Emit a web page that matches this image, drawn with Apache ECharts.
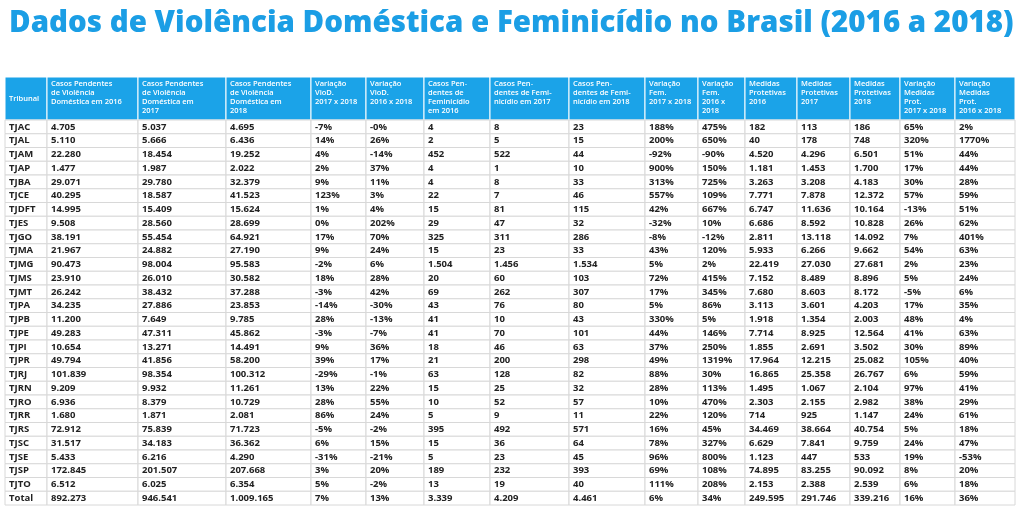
<!DOCTYPE html>
<html lang="pt">
<head>
    <meta charset="UTF-8">
    <title>Dados de Violência Doméstica e Feminicídio no Brasil</title>
    <style>
        body { margin: 0; padding: 0; background: #fff; }
        #tabela { width: 1024px; height: 511px; }
    </style>
</head>
<body>
    <div id="tabela"></div>
    <script src="https://cdn.jsdelivr.net/npm/echarts@6/dist/echarts.min.js"></script>
    <script>
        var headers = ['Tribunal', 'Casos Pendentes\nde Violência\nDoméstica em 2016', 'Casos Pendentes\nde Violência\nDoméstica em\n2017',
            'Casos Pendentes\nde Violência\nDoméstica em\n2018', 'Variação\nVioD.\n2017 x 2018', 'Variação\nVioD.\n2016 x 2018',
            'Casos Pen-\ndentes de\nFeminicídio\nem 2016', 'Casos Pen-\ndentes de Femi-\nnicídio em 2017', 'Casos Pen-\ndentes de Femi-\nnicídio em 2018',
            'Variação\nFem.\n2017 x 2018', 'Variação\nFem.\n2016 x\n2018', 'Medidas\nProtetivas\n2016', 'Medidas\nProtetivas\n2017',
            'Medidas\nProtetivas\n2018', 'Variação\nMedidas\nProt.\n2017 x 2018', 'Variação\nMedidas\nProt.\n2016 x 2018'];

        var tribunais = ['TJAC','TJAL','TJAM','TJAP','TJBA','TJCE','TJDFT','TJES','TJGO','TJMA','TJMG','TJMS','TJMT','TJPA','TJPB','TJPE','TJPI','TJPR','TJRJ','TJRN','TJRO','TJRR','TJRS','TJSC','TJSE','TJSP','TJTO','Total'];
        var vd2016 = ['4.705','5.110','22.280','1.477','29.071','40.295','14.995','9.508','38.191','21.967','90.473','23.910','26.242','34.235','11.200','49.283','10.654','49.794','101.839','9.209','6.936','1.680','72.912','31.517','5.433','172.845','6.512','892.273'];
        var vd2017 = ['5.037','5.666','18.454','1.987','29.780','18.587','15.409','28.560','55.454','24.882','98.004','26.010','38.432','27.886','7.649','47.311','13.271','41.856','98.354','9.932','8.379','1.871','75.839','34.183','6.216','201.507','6.025','946.541'];
        var vd2018 = ['4.695','6.436','19.252','2.022','32.379','41.523','15.624','28.699','64.921','27.190','95.583','30.582','37.288','23.853','9.785','45.862','14.491','58.200','100.312','11.261','10.729','2.081','71.723','36.362','4.290','207.668','6.354','1.009.165'];
        var varVd1718 = ['-7%','14%','4%','2%','9%','123%','1%','0%','17%','9%','-2%','18%','-3%','-14%','28%','-3%','9%','39%','-29%','13%','28%','86%','-5%','6%','-31%','3%','5%','7%'];
        var varVd1618 = ['-0%','26%','-14%','37%','11%','3%','4%','202%','70%','24%','6%','28%','42%','-30%','-13%','-7%','36%','17%','-1%','22%','55%','24%','-2%','15%','-21%','20%','-2%','13%'];
        var fem2016 = ['4','2','452','4','4','22','15','29','325','15','1.504','20','69','43','41','41','18','21','63','15','10','5','395','15','5','189','13','3.339'];
        var fem2017 = ['8','5','522','1','8','7','81','47','311','23','1.456','60','262','76','10','70','46','200','128','25','52','9','492','36','23','232','19','4.209'];
        var fem2018 = ['23','15','44','10','33','46','115','32','286','33','1.534','103','307','80','43','101','63','298','82','32','57','11','571','64','45','393','40','4.461'];
        var varFem1718 = ['188%','200%','-92%','900%','313%','557%','42%','-32%','-8%','43%','5%','72%','17%','5%','330%','44%','37%','49%','88%','28%','10%','22%','16%','78%','96%','69%','111%','6%'];
        var varFem1618 = ['475%','650%','-90%','150%','725%','109%','667%','10%','-12%','120%','2%','415%','345%','86%','5%','146%','250%','1319%','30%','113%','470%','120%','45%','327%','800%','108%','208%','34%'];
        var mp2016 = ['182','40','4.520','1.181','3.263','7.771','6.747','6.686','2.811','5.933','22.419','7.152','7.680','3.113','1.918','7.714','1.855','17.964','16.865','1.495','2.303','714','34.469','6.629','1.123','74.895','2.153','249.595'];
        var mp2017 = ['113','178','4.296','1.453','3.208','7.878','11.636','8.592','13.118','6.266','27.030','8.489','8.603','3.601','1.354','8.925','2.691','12.215','25.358','1.067','2.155','925','38.664','7.841','447','83.255','2.388','291.746'];
        var mp2018 = ['186','748','6.501','1.700','4.183','12.372','10.164','10.828','14.092','9.662','27.681','8.896','8.172','4.203','2.003','12.564','3.502','25.082','26.767','2.104','2.982','1.147','40.754','9.759','533','90.092','2.539','339.216'];
        var varMp1718 = ['65%','320%','51%','17%','30%','57%','-13%','26%','7%','54%','2%','5%','-5%','17%','48%','41%','30%','105%','6%','97%','38%','24%','5%','24%','19%','8%','6%','16%'];
        var varMp1618 = ['2%','1770%','44%','44%','28%','59%','51%','62%','401%','63%','23%','24%','6%','35%','4%','63%','89%','40%','59%','41%','29%','61%','18%','47%','-53%','20%','18%','36%'];

        var colunas = [tribunais, vd2016, vd2017, vd2018, varVd1718, varVd1618, fem2016, fem2017, fem2018,
            varFem1718, varFem1618, mp2016, mp2017, mp2018, varMp1718, varMp1618];

        // bordas das colunas (px dentro da tabela)
        var bordas = [0, 42, 133, 221, 306, 361, 419, 485, 564, 640, 693, 740, 792, 845, 895, 950, 1010];
        var fonte = '"Open Sans", "DejaVu Sans", sans-serif';

        var dadosCab = [], dadosCorpo = [];
        for (var c = 0; c < colunas.length; c++) {
            dadosCab.push([c, 0]);
            for (var r = 0; r < tribunais.length; r++) {
                dadosCorpo.push([c, r]);
            }
        }

        function celula(cabecalho) {
            return function (params, api) {
                var c = api.value(0), r = api.value(1);
                var p0 = api.coord([bordas[c], r]);
                var p1 = api.coord([bordas[c + 1], r]);
                var h = api.size([0, 1])[1];
                var y = p0[1] - h / 2;
                var topo = cabecalho && c !== 0;
                return {
                    type: 'group',
                    children: [{
                        type: 'rect',
                        shape: { x: p0[0], y: y, width: p1[0] - p0[0], height: h },
                        style: cabecalho ? { fill: '#1ba3e8', stroke: '#ffffff', lineWidth: 1 }
                            : { fill: '#ffffff', stroke: '#d8d8d8', lineWidth: 1 }
                    }, {
                        type: 'text',
                        x: p0[0] + 4,
                        y: topo ? y + 2 : p0[1],
                        style: {
                            text: cabecalho ? headers[c] : colunas[c][r],
                            fill: cabecalho ? '#ffffff' : '#222222',
                            font: (cabecalho ? '600 7.5px ' : 'bold 9.5px ') + fonte,
                            lineHeight: 9,
                            verticalAlign: topo ? 'top' : 'middle',
                            align: 'left'
                        }
                    }]
                };
            };
        }

        var chart = echarts.init(document.getElementById('tabela'));
        chart.setOption({
            animation: false,
            title: {
                text: 'Dados de Violência Doméstica e Feminicídio no Brasil (2016 a 2018)',
                left: 4, top: 4,
                textStyle: { color: '#1b9ee5', fontSize: 29.5, fontWeight: 800, fontFamily: fonte }
            },
            grid: [
                { left: 5, width: 1010, top: 77, height: 43 },
                { left: 5, width: 1010, top: 120, height: 385 }
            ],
            xAxis: [
                { type: 'value', gridIndex: 0, min: 0, max: 1010, show: false },
                { type: 'value', gridIndex: 1, min: 0, max: 1010, show: false }
            ],
            yAxis: [
                { type: 'category', gridIndex: 0, data: ['cab'], show: false },
                { type: 'category', gridIndex: 1, data: tribunais, inverse: true, show: false }
            ],
            series: [
                { type: 'custom', xAxisIndex: 0, yAxisIndex: 0, data: dadosCab, renderItem: celula(true), silent: true },
                { type: 'custom', xAxisIndex: 1, yAxisIndex: 1, data: dadosCorpo, renderItem: celula(false), silent: true }
            ]
        });
    </script>
</body>
</html>
